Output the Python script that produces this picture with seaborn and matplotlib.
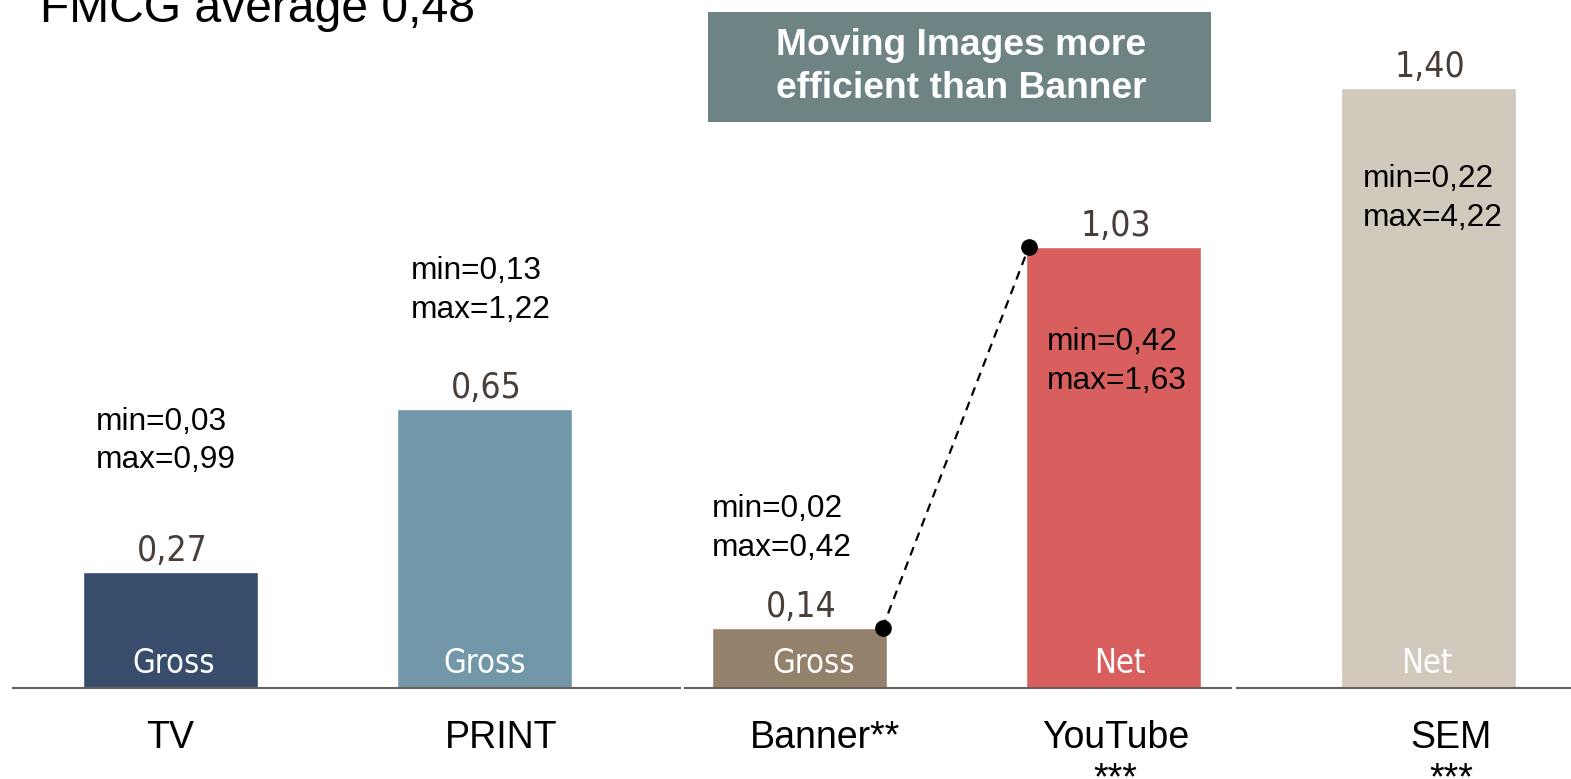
import matplotlib
matplotlib.use("Agg")
import matplotlib.pyplot as plt
import matplotlib.transforms as mtransforms
import seaborn as sns
import pandas as pd
from matplotlib.patches import Rectangle

# ---------------- data ----------------
categories = ["TV", "PRINT", "Banner**", "YouTube\n***", "SEM\n***"]
values = [0.27, 0.65, 0.14, 1.03, 1.40]
value_labels = ["0,27", "0,65", "0,14", "1,03", "1,40"]
basis = ["Gross", "Gross", "Gross", "Net", "Net"]
range_labels = ["min=0,03\nmax=0,99", "min=0,13\nmax=1,22", "min=0,02\nmax=0,42",
                "min=0,42\nmax=1,63", "min=0,22\nmax=4,22"]
colors = ["#384D6B", "#7297A8", "#94816C", "#D95F5F", "#D1C9BC"]
title_text = "FMCG average 0,48"
box_text = "Moving Images more\nefficient than Banner"

# ---------------- layout ----------------
W, H = 1571, 779
px_per_cat = 314.5
px_per_unit = 428.5
base_px = 688          # baseline, px from top
first_center_px = 170
bar_width = 175 / px_per_cat
range_y = [0.577, 0.928, 0.372, 0.762, 1.142]        # centre of min/max block (data)
range_dx = [13, 14, 0, 21, 22]                         # px from bar left edge
cat_dx = [0, 17, 26, 2, 23]                            # px shift of category labels
basis_dx = [4, 0, 15, 6, -1]                           # px shift of Gross/Net labels

sns.set_theme(style="white")
plt.rcParams["font.family"] = ["Liberation Sans", "DejaVu Sans"]

fig = plt.figure(figsize=(W / 100, H / 100), dpi=100)
ax = fig.add_axes([0, (H - base_px) / H, 1, base_px / H])

df = pd.DataFrame({"cat": categories, "val": values})
sns.barplot(data=df, x="cat", y="val", hue="cat", palette=colors, width=bar_width,
            saturation=1, legend=False, ax=ax, order=categories, hue_order=categories)

xl = -first_center_px / px_per_cat
xr = (W - first_center_px) / px_per_cat
ax.set_xlim(xl, xr)
ax.set_ylim(0, base_px / px_per_unit)
for s in ax.spines.values():
    s.set_visible(False)
ax.set_yticks([])
ax.set_xlabel("")
ax.set_ylabel("")
ax.tick_params(axis="x", length=0, pad=23, labelsize=27, labelcolor="black")
for t, dx in zip(ax.get_xticklabels(), cat_dx):
    t.set_fontfamily(["Liberation Sans"])
    t.set_linespacing(1.2)
    t.set_transform(t.get_transform() +
                    mtransforms.ScaledTranslation(dx / 100, 0, fig.dpi_scale_trans))

# baseline with two small gaps
def pxx(p):
    return (p - first_center_px) / px_per_cat
segs = [(12, 681), (684, 1232), (1236, W)]
for a, b in segs:
    ax.plot([pxx(a), pxx(b)], [0, 0], color="#6B5F57", lw=1.5, clip_on=False,
            solid_capstyle="butt", zorder=3)

cond = dict(family=["DejaVu Sans"], fontstretch="condensed")
for i, (v, vl, b, rl) in enumerate(zip(values, value_labels, basis, range_labels)):
    ax.annotate(vl, (i, v), xytext=(1.5, 8), textcoords="offset points",
                ha="center", va="baseline", fontsize=25.5, color="#4A3F38", **cond)
    ax.annotate(b, (i, 0), xytext=(basis_dx[i] * 0.72, 11), textcoords="offset points",
                ha="center", va="baseline", fontsize=23.5, color="white", **cond)
    x_left = i - bar_width / 2 + range_dx[i] / px_per_cat
    ax.text(x_left, range_y[i], rl, ha="left", va="center", fontsize=22.8,
            color="black", family=["Liberation Sans"], linespacing=1.37)

# dashed connector Banner -> YouTube
bi, yi = 2, 3
x0 = bi + bar_width / 2 - 4 / px_per_cat
x1 = yi - bar_width / 2 + 3 / px_per_cat
ax.plot([x0, x1], [values[bi], values[yi]], color="black", lw=1.6,
        ls=(0, (4, 3)), marker="o", markersize=11, zorder=5, clip_on=False)

# title top-left (partly cut)
fig.text(40 / W, 1 - 22 / H, title_text, ha="left", va="baseline",
         fontsize=34.6, color="black", family=["Liberation Sans"])

# grey call-out box
fig.patches.append(Rectangle((708 / W, 1 - 122 / H), 503 / W, 110 / H,
                             transform=fig.transFigure, facecolor="#6E8484",
                             edgecolor="none", zorder=1))
fig.text(961 / W, 1 - 67 / H, box_text, ha="center", va="center", fontsize=26.8,
         fontweight="bold", color="white", family=["Liberation Sans"],
         linespacing=1.3, zorder=2)

fig.savefig("out.png", dpi=100)
